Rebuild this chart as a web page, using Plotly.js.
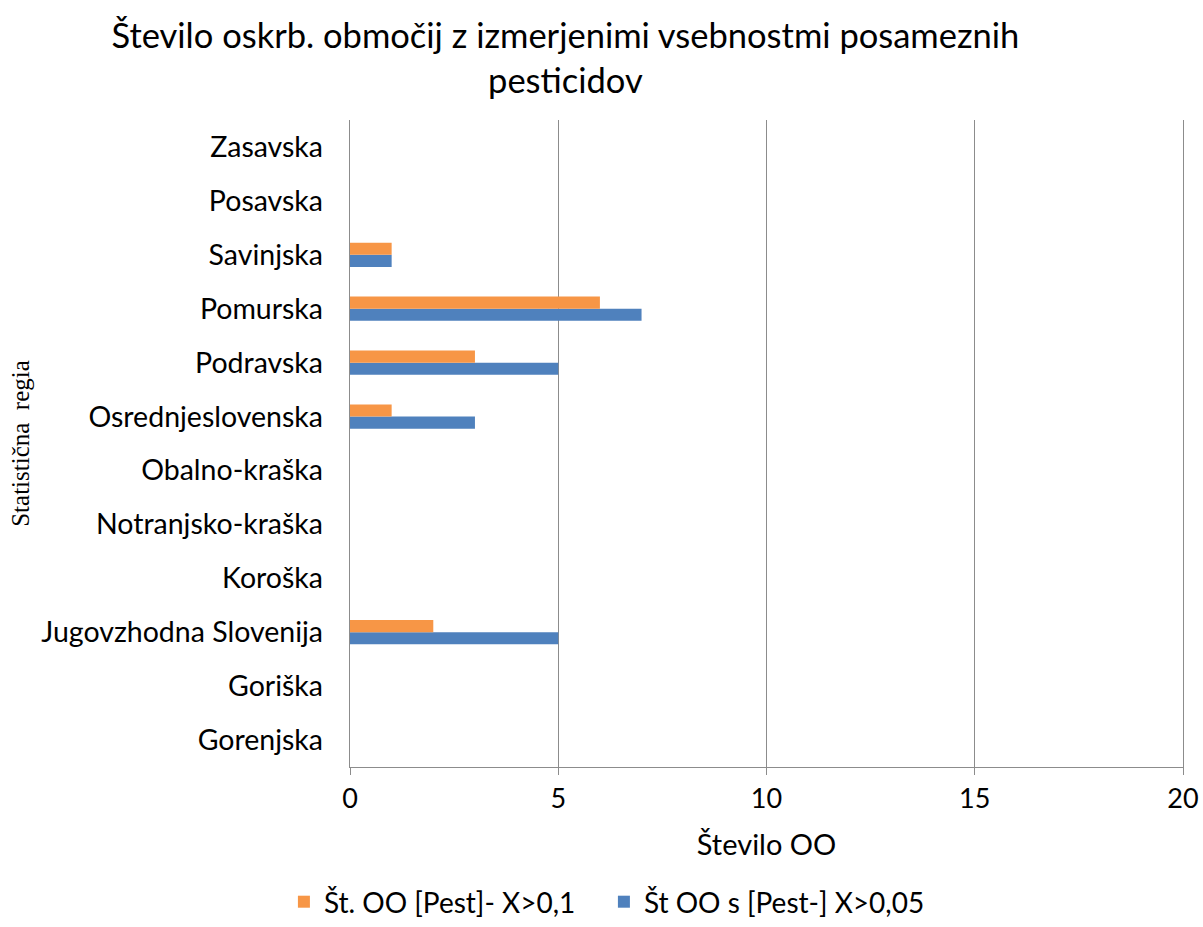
<!DOCTYPE html>
<html><head><meta charset="utf-8">
<script src="https://cdn.plot.ly/plotly-3.0.1.min.js"></script>
<style>body{margin:0;background:#fff}#c{width:1203px;height:927px}</style>
</head><body><div id="c"></div>
<script>
const regions = ["Gorenjska","Goriška","Jugovzhodna Slovenija","Koroška","Notranjsko-kraška","Obalno-kraška","Osrednjeslovenska","Podravska","Pomurska","Savinjska","Posavska","Zasavska"];
const seriesBlueName = "Št OO s [Pest-] X>0,05";
const seriesBlue = [0,0,5,0,0,0,3,5,7,1,0,0];
const seriesOrangeName = "Št. OO [Pest]- X>0,1";
const seriesOrange = [0,0,2,0,0,0,1,3,6,1,0,0];
const xTicks = [0,5,10,15,20];

const fontMain = "Lato, 'Open Sans', sans-serif";
const traces = [
  {type:'bar', orientation:'h', y:regions, x:seriesBlue, name:seriesBlueName,
   marker:{color:'#4f81bd'}},
  {type:'bar', orientation:'h', y:regions, x:seriesOrange, name:seriesOrangeName,
   marker:{color:'#f79646'}}
];
const layout = {
  width:1203, height:927,
  paper_bgcolor:'#fff', plot_bgcolor:'#fff',
  margin:{l:350, r:20, t:120, b:160, autoexpand:false},
  barmode:'group', bargap:0.55, bargroupgap:0,
  title:{text:"Število oskrb. območij z izmerjenimi vsebnostmi posameznih<br>pesticidov",
         font:{family:fontMain, size:34.5, color:'#000'}, x:0.47, xanchor:'center',
         yref:'container', y:0.948, yanchor:'middle'},
  xaxis:{range:[0,20], tickvals:xTicks, ticktext:xTicks.map(String),
         showgrid:true, gridcolor:'#8c8c8c', gridwidth:1.3, zeroline:false,
         showline:true, linecolor:'#8c8c8c', linewidth:1.3,
         ticks:'outside', ticklen:7, tickcolor:'#8c8c8c',
         tickfont:{family:fontMain, size:27, color:'#000'},
         title:{text:"Število OO", font:{family:fontMain, size:29, color:'#000'}, standoff:22},
         fixedrange:true},
  yaxis:{categoryorder:'array', categoryarray:regions, type:'category',
         showgrid:false, zeroline:false, showline:true, mirror:true, linecolor:'#8c8c8c', linewidth:1.3,
         ticks:'', ticklabelstandoff:20,
         tickfont:{family:fontMain, size:28.5, color:'#000'},
         title:{text:"Statistična  regia", font:{family:"'Liberation Serif', 'DejaVu Serif', serif", size:25, color:'#000'}, standoff:4},
         fixedrange:true},
  legend:{orientation:'h', xref:'container', x:0.502, xanchor:'center', yref:'container', y:0.0, yanchor:'bottom', traceorder:'reversed',
          font:{family:fontMain, size:28, color:'#000'}, itemwidth:30, entrywidth:275, entrywidthmode:'pixels'},
  showlegend:true
};
Plotly.newPlot('c', traces, layout, {displayModeBar:false, staticPlot:true});
</script></body></html>
